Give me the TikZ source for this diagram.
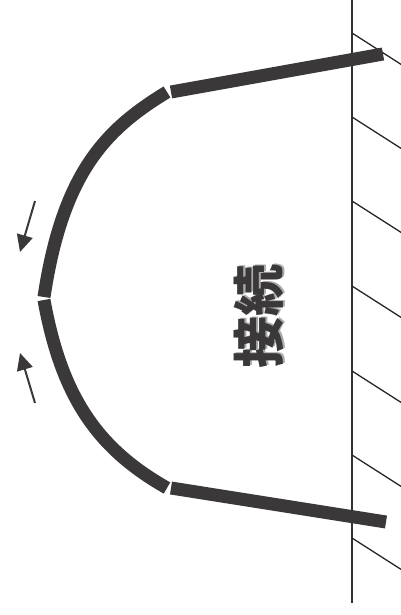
\documentclass[tikz,border=0pt]{standalone}
\usepackage{fontspec}
\newfontfamily\cjk{Noto Sans CJK JP}
\usetikzlibrary{arrows.meta}
\definecolor{bandgray}{HTML}{3A3838}
\definecolor{shadowgray}{HTML}{ABABAB}
\tikzset{
    band/.style={color=bandgray,line width=13pt},
    wall/.style={color=black!80,line width=1.5pt},
    hatch/.style={color=black!85,line width=1.3pt},
    force/.style={color=bandgray,line width=2pt,-{Triangle[length=17pt,width=16pt]}},
    caption/.style={rotate=90,font=\cjk\bfseries\fontsize{52}{52}\selectfont,inner sep=0pt}
}
\begin{document}
\begin{tikzpicture}[x=1pt,y=-1pt]
    \useasboundingbox (0,0) rectangle (401,615);
    % wall and hatching
    \coordinate (walltop) at (352,0);
    \coordinate (wallend) at (352,603);
    \draw[wall] (walltop) -- (wallend);
    \begin{scope}
        \clip (352,0) rectangle (401,615);
        \foreach \y in {33,117,201,286,371,455,538} {
            \draw[hatch] (352,\y) -- (402,\y+32);
        }
    \end{scope}
    % band
    \coordinate (topfoot) at (383,54);
    \coordinate (topknee) at (171,92);
    \coordinate (topbend) at (167,92);
    \coordinate (tip) at (44,297);
    \coordinate (tiplow) at (44,300);
    \coordinate (lowbend) at (167,488);
    \coordinate (lowknee) at (171,488);
    \coordinate (lowfoot) at (386,522);
    \draw[band] (topfoot) -- (topknee);
    \draw[band] (topbend) .. controls (108,128) and (63,170) .. (tip);
    \draw[band] (tiplow) .. controls (62,400) and (100,450) .. (lowbend);
    \draw[band] (lowknee) -- (lowfoot);
    % arrows
    \coordinate (uppertail) at (35,201);
    \coordinate (upperhead) at (20,252);
    \coordinate (lowertail) at (35,403);
    \coordinate (lowerhead) at (20,353);
    \draw[force] (uppertail) -- (upperhead);
    \draw[force] (lowertail) -- (lowerhead);
    % label
    \node[caption,color=shadowgray] (labelshadow) at (261,315) {接続};
    \node[caption,color=bandgray] (label) at (259,316) {接続};
\end{tikzpicture}
\end{document}
